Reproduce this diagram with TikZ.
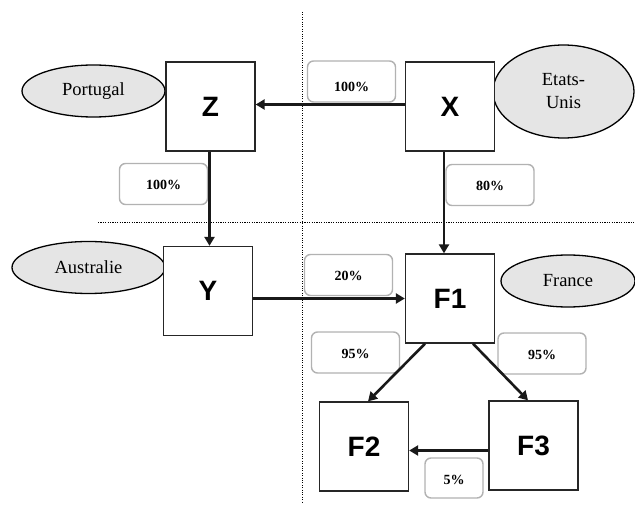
\documentclass[tikz,border=0pt]{standalone}
\usepackage{fontspec}
\setmainfont{Liberation Serif}
\setsansfont{Liberation Sans}
\usetikzlibrary{arrows.meta,shapes.geometric}
\begin{document}
\begin{tikzpicture}[x=1pt,y=-1pt,
  entity/.style={draw=black!85, line width=1.3pt, fill=white, minimum width=89pt, minimum height=89pt,
     inner sep=0pt, font=\sffamily\bfseries\fontsize{28}{30}\selectfont, text height=20pt, text depth=0pt},
  pct/.style={draw=black!30, line width=1.4pt, rounded corners=6pt, fill=white, inner sep=0pt,
     minimum width=88pt, minimum height=41pt, font=\bfseries\fontsize{14}{16}\selectfont,
     text height=13pt, text depth=1pt},
  country/.style={draw=black, line width=1.3pt, fill=black!10, ellipse, inner sep=0pt,
     font=\fontsize{18.5}{23}\selectfont, align=center},
  link/.style={line width=2.6pt, draw=black!90, -{Triangle[length=9pt,width=10pt]}},
  sep/.style={line width=1.1pt, dash pattern=on 1.1pt off 1.3pt}
]
\useasboundingbox (0,0) rectangle (635,505);
% separators
\draw[sep] (302.7,12) -- (302.7,502);
\draw[sep] (98,222.7) -- (635,222.7);
% country ellipses
\node[country, minimum width=143pt, minimum height=52pt] (pt) at (93.5,91) {Portugal};
\node[country, minimum width=141pt, minimum height=93pt] (us) at (563.5,91.5) {Etats-\\Unis};
\node[country, minimum width=153pt, minimum height=52pt] (au) at (88.5,267.5) {Australie};
\node[country, minimum width=134pt, minimum height=52pt] (fr) at (568,281) {France};
% entities
\node[entity] (Z) at (210.5,106.5) {Z};
\node[entity] (X) at (450,106.5) {X};
\node[entity] (Y) at (208,291) {Y};
\node[entity] (F1) at (450,298.5) {F1};
\node[entity] (F2) at (364,446.5) {F2};
\node[entity] (F3) at (533.5,445.5) {F3};
% percentages
\node[pct, text height=21pt] (p1) at (351.5,81.5) {100\%};
\node[pct] (p2) at (163.5,184) {100\%};
\node[pct] (p3) at (490,185) {80\%};
\node[pct] (p4) at (348.5,275) {20\%};
\node[pct] (p5) at (355.5,352.5) {95\%};
\node[pct] (p6) at (542,353.5) {95\%};
\node[pct, minimum width=58pt, minimum height=40pt] (p7) at (454,478) {5\%};
% connectors
\draw[link] ([yshift=2pt]X.west) -- ([yshift=2pt]Z.east);
\draw[link] ([xshift=-1pt]Z.south) -- ([xshift=-1pt]Z.south |- Y.north);
\draw[link] ([xshift=-6pt]X.south) -- ([xshift=-6pt]X.south |- F1.north);
\draw[link] (Y.east |- F1.west) -- (F1.west);
\draw[link] ([xshift=-25pt]F1.south) -- ([xshift=4pt]F2.north);
\draw[link] ([xshift=23pt]F1.south) -- ([xshift=-5.5pt]F3.north);
\draw[link] ([yshift=-5pt]F3.west) -- ([yshift=-5pt]F3.west -| F2.east);
\end{tikzpicture}
\end{document}
